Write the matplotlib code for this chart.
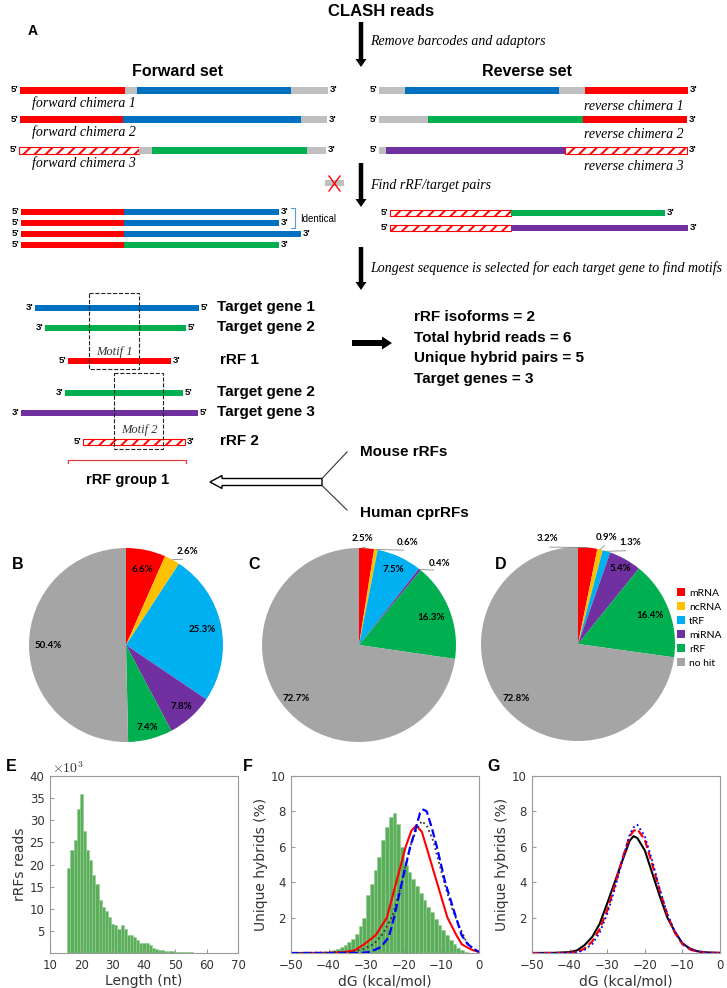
import numpy as np
import matplotlib.pyplot as plt
from matplotlib.patches import Rectangle, Polygon, FancyArrow

plt.rcParams['mathtext.fontset'] = 'cm'
plt.rcParams['hatch.linewidth'] = 1.4

W, H = 727, 988
SANS = 'Liberation Sans'
SERIF = 'Liberation Serif'

# ---- panel A: schematic reads (segment kind, length in px) ----
seg_colors = {'r': '#FF0000', 'b': '#0070C0', 'g': '#00B050', 'p': '#7030A0', 'n': '#BFBFBF'}
fwd_chimeras = [[('r', 105), ('n', 12), ('b', 154), ('n', 37)],
                [('r', 103), ('b', 178), ('n', 26)],
                [('h', 120), ('n', 13), ('g', 155), ('n', 19)]]
rev_chimeras = [[('n', 26), ('b', 154), ('n', 26), ('r', 103)],
                [('n', 49), ('g', 155), ('r', 104)],
                [('n', 7), ('p', 179), ('h', 122)]]
fwd_pairs = [[('r', 103), ('b', 155)], [('r', 103), ('b', 155)],
             [('r', 103), ('b', 177)], [('r', 103), ('g', 155)]]
rev_pairs = [[('h', 121), ('g', 154)], [('h', 121), ('p', 177)]]
motif_rows = [[('b', 164)], [('g', 141)], [('r', 103)], [('g', 118)], [('p', 177)], [('h', 102)]]
motif_names = ['Target gene 1', 'Target gene 2', 'rRF 1', 'Target gene 2', 'Target gene 3', 'rRF 2']
stats = ['rRF isoforms = 2', 'Total hybrid reads = 6', 'Unique hybrid pairs = 5', 'Target genes = 3']

# ---- panels B-D: pies ----
pie_labels = ['mRNA', 'ncRNA', 'tRF', 'miRNA', 'rRF', 'no hit']
pie_colors = ['#FF0000', '#FFC000', '#00B0F0', '#7030A0', '#00B050', '#A5A5A5']
pie_b = [6.6, 2.6, 25.3, 7.8, 7.4, 50.4]
pie_c = [2.5, 0.6, 7.5, 0.4, 16.3, 72.7]
pie_d = [3.2, 0.9, 1.3, 5.4, 16.4, 72.8]

# ---- panel E: rRF length histogram (x10^3 reads) ----
len_nt = np.arange(16, 66)
len_reads = [19.1, 23.2, 25.5, 32.6, 36.0, 27.5, 23.3, 21.1, 17.7, 15.7,
             12.0, 10.4, 9.6, 8.1, 6.6, 6.3, 5.5, 6.3, 5.5, 4.0,
             4.0, 3.6, 3.0, 2.3, 2.3, 2.2, 1.9, 1.2, 0.9, 0.75,
             0.6, 0.45, 0.45, 0.38, 0.3, 0.25, 0.2, 0.17, 0.15, 0.12,
             0.1, 0.08, 0.08, 0.06, 0.1, 0.05, 0.04, 0.03, 0.03, 0.02]

# ---- panel F: dG histogram + curves ----
dg_left = np.arange(-42, -2)
dg_hist = [0.05, 0.07, 0.1, 0.15, 0.25, 0.35, 0.45, 0.6, 0.8, 1.1,
           1.5, 2.0, 3.3, 3.9, 4.7, 5.4, 6.4, 7.1, 7.7, 7.9,
           7.3, 6.0, 5.0, 4.6, 4.2, 3.8, 3.4, 3.0, 2.6, 2.3,
           1.9, 1.6, 1.3, 1.0, 0.75, 0.5, 0.3, 0.15, 0.06, 0.02]
f_red_x = [-50, -40, -36, -33, -30.5, -27.5, -24.5, -22, -19.5, -18, -16.7, -15.2, -14, -11.2, -8.4, -6, -4.6, -3, -1.5, 0]
f_red_y = [0.0, 0.01, 0.05, 0.15, 0.5, 1.0, 2.0, 4.0, 6.0, 6.9, 7.2, 6.85, 6.0, 4.0, 2.0, 1.0, 0.5, 0.3, 0.15, 0.06]
f_blue_x = [-50, -32, -29, -26, -24, -22.6, -20.5, -18.3, -17, -15.7, -14.8, -13.9, -12.6, -11.2, -9, -6.1, -4.6, -3, -1.5, 0]
f_blue_y = [0, 0, 0.05, 0.35, 0.9, 2.0, 4.0, 6.0, 6.9, 7.9, 8.1, 8.0, 7.1, 6.0, 4.0, 2.0, 1.0, 0.5, 0.25, 0.06]
f_blk_x = [-50, -34, -31, -28, -25.5, -23, -21, -19.5, -18, -16.6, -15.2, -13.9, -12.1, -10.4, -8.6, -6.8, -5, -3.3, -1.5, 0]
f_blk_y = [0, 0.05, 0.2, 0.5, 1.1, 2.1, 3.6, 5.0, 6.2, 7.0, 7.45, 7.2, 6.3, 4.9, 3.5, 2.3, 1.4, 0.6, 0.25, 0.06]

# ---- panel G: curves ----
g_x = [-50, -44, -40, -38, -36, -34, -32, -30, -28, -26, -24, -23, -22, -20, -18, -16, -14, -12, -10, -8, -6, -4, -2, 0]
g_blk = [0, 0.01, 0.05, 0.15, 0.45, 0.9, 1.65, 2.8, 4.0, 5.2, 6.35, 6.6, 6.5, 5.8, 4.5, 3.2, 2.0, 1.2, 0.55, 0.25, 0.1, 0.04, 0.02, 0.01]
g_red = [0, 0, 0.01, 0.05, 0.25, 0.65, 1.35, 2.4, 3.8, 5.3, 6.6, 6.9, 7.0, 6.4, 5.0, 3.5, 2.15, 1.15, 0.5, 0.2, 0.07, 0.02, 0.01, 0]
g_blue = [0, 0, 0.01, 0.03, 0.18, 0.5, 1.15, 2.2, 3.6, 5.2, 6.7, 7.1, 7.25, 6.6, 5.2, 3.6, 2.2, 1.2, 0.55, 0.22, 0.08, 0.02, 0.01, 0]


fig = plt.figure(figsize=(W / 100, H / 100), dpi=100)
ax0 = fig.add_axes([0, 0, 1, 1])
ax0.set_xlim(0, W)
ax0.set_ylim(H, 0)
ax0.axis('off')


def txt(x, y, s, size, bold=False, italic=False, ha='left', family=SANS, **kw):
    ax0.text(x, y, s, fontsize=size, fontweight='bold' if bold else 'normal',
             fontstyle='italic' if italic else 'normal', ha=ha, va='center',
             family=family, **kw)


def read(x, y, segs, h, left="5'", right="3'"):
    x0 = x
    for kind, ln in segs:
        if kind == 'h':
            ax0.add_patch(Rectangle((x, y - h / 2), ln, h, facecolor='white',
                                    edgecolor='#FF0000', hatch='///', lw=0.8))
        else:
            ax0.add_patch(Rectangle((x, y - h / 2), ln, h, facecolor=seg_colors[kind],
                                    edgecolor='none'))
        x += ln
    txt(x0 - 2, y - 1, left, 6.8, bold=True, ha='right')
    txt(x + 2, y - 1, right, 6.8, bold=True)


def down_arrow(y0, y1):
    ax0.add_patch(FancyArrow(361, y0, 0, y1 - y0, width=4.5, head_width=11, head_length=8,
                             length_includes_head=True, color='black', lw=0))


# title and flow arrows
txt(381, 11, 'CLASH reads', 12, bold=True, ha='center')
txt(28, 31, 'A', 10, bold=True)
down_arrow(22, 67)
down_arrow(163, 207)
down_arrow(247, 290)
txt(370, 42, 'Remove barcodes and adaptors', 10, italic=True, family=SERIF)
txt(370, 185, 'Find rRF/target pairs', 10, italic=True, family=SERIF)
txt(370, 268, 'Longest sequence is selected for each target gene to find motifs', 10,
    italic=True, family=SERIF)
txt(178, 72, 'Forward set', 11.5, bold=True, ha='center')
txt(527, 72, 'Reverse set', 11.5, bold=True, ha='center')

# chimeras
for i, (segs, y) in enumerate(zip(fwd_chimeras, [91, 120, 151])):
    read([20, 20, 19][i], y, segs, 7)
    txt(32, y + 12, f'forward chimera {i + 1}', 10, italic=True, family=SERIF)
for i, (segs, y) in enumerate(zip(rev_chimeras, [91, 120, 151])):
    read(379, y, segs, 7)
    txt(584, y + 15, f'reverse chimera {i + 1}', 10, italic=True, family=SERIF)

# removed read
ax0.add_patch(Rectangle((325, 180), 19, 6, facecolor='#BFBFBF', edgecolor='none'))
ax0.plot([329, 340], [176, 191], color='#FF0000', lw=1)
ax0.plot([340, 329], [176, 191], color='#FF0000', lw=1)

# rRF/target pairs
for segs, y in zip(fwd_pairs, [212, 223, 234, 245]):
    read(21, y, segs, 5.5)
ax0.plot([291, 295, 295, 291], [208, 208, 228, 228], color='#5B9BD5', lw=0.8)
txt(300, 219, 'Identical', 7)
for segs, y in zip(rev_pairs, [213, 228]):
    read(390, y, segs, 5.5)

# motif panel
row_x = [35, 45, 68, 65, 21, 83]
row_y = [308, 328, 361, 393, 413, 442]
for segs, x, y, name in zip(motif_rows, row_x, row_y, motif_names):
    if name.startswith('rRF'):
        read(x, y, segs, 6)
    else:
        read(x, y, segs, 6, left="3'", right="5'")
    txt(217 if not name.startswith('rRF') else 220, y - 1, name, 11, bold=True)
ax0.add_patch(Rectangle((89, 293), 50, 76, fill=False, ls='--', lw=0.8, edgecolor='#222222'))
ax0.add_patch(Rectangle((114, 373), 49, 76, fill=False, ls='--', lw=0.8, edgecolor='#222222'))
txt(114, 352, 'Motif 1', 9, italic=True, ha='center', family=SERIF, color='#333333')
txt(139, 430, 'Motif 2', 9, italic=True, ha='center', family=SERIF, color='#333333')
ax0.plot([68, 68, 186, 186], [463, 460, 460, 463], color='#E04040', lw=0.9)
txt(128, 480, 'rRF group 1', 10.5, bold=True, ha='center')

# summary
ax0.add_patch(FancyArrow(352, 343, 40, 0, width=6, head_width=13, head_length=10,
                         length_includes_head=True, color='black', lw=0))
for i, s in enumerate(stats):
    txt(414, 317 + i * 20.5, s, 11, bold=True)

# merge arrow
ax0.add_patch(Polygon([[210, 482], [222, 475.5], [222, 478.5], [322, 478.5],
                       [322, 485.5], [222, 485.5], [222, 488.5]],
                      closed=True, facecolor='white', edgecolor='black', lw=1))
ax0.plot([322, 347], [478.5, 452], color='#333333', lw=0.8)
ax0.plot([322, 347], [485.5, 510], color='#333333', lw=0.8)
txt(360, 452, 'Mouse rRFs', 11, bold=True)
txt(360, 513, 'Human cprRFs', 11, bold=True)

# panel letters
for s, x, y in [('B', 12, 564), ('C', 248, 564), ('D', 495, 564),
                ('E', 6, 766), ('F', 243, 766), ('G', 487, 766)]:
    txt(x, y, s, 11.5, bold=True)


# ---- pies ----
def draw_pie(cx, cy, r, vals, lab_r, lab_da):
    ax = fig.add_axes([(cx - r) / W, 1 - (cy + r) / H, 2 * r / W, 2 * r / H])
    wedges, _ = ax.pie(vals, colors=pie_colors, startangle=90, counterclock=False,
                       wedgeprops=dict(linewidth=0))
    ax.set_xlim(-1, 1)
    ax.set_ylim(-1, 1)
    ax.set_aspect('equal')
    ax.axis('off')
    for w, v, rr, da in zip(wedges, vals, lab_r, lab_da):
        mid = np.deg2rad((w.theta1 + w.theta2) / 2)
        ang = mid + np.deg2rad(da)
        tx, ty = rr * np.cos(ang), rr * np.sin(ang)
        ax.text(tx, ty, f'{v}%', fontsize=7, fontweight='bold', family='Lato',
                ha='center', va='center', clip_on=False)
        if rr > 1:
            ex, ey = (rr - 0.09) * np.cos(ang), (rr - 0.09) * np.sin(ang)
            ax.plot([np.cos(mid), ex], [np.sin(mid), ey], color='#888888', lw=0.6,
                    clip_on=False)
    return wedges


draw_pie(126, 645, 97, pie_b, [0.8, 1.15, 0.8, 0.85, 0.88, 0.8], [0, -5, 0, 0, 0, 0])
draw_pie(359, 645, 97, pie_c, [1.1, 1.17, 0.86, 1.18, 0.79, 0.85], [2.5, -15, 0, -6, 0, 0])
wd = draw_pie(578, 644, 97, pie_d, [1.13, 1.14, 1.17, 0.89, 0.8, 0.85], [22, -2, -10, 0, 0, 0])
fig.legend(wd, pie_labels, loc='upper left', bbox_to_anchor=(677 / W, 1 - 588 / H),
           frameon=False, prop={'family': 'Lato', 'size': 7.5}, handlelength=0.8,
           handleheight=0.8, handletextpad=0.35, labelspacing=0.42, borderpad=0,
           borderaxespad=0)


# ---- histogram panels ----
def style(ax):
    for s in ax.spines.values():
        s.set_color('#999999')
        s.set_linewidth(0.8)
    ax.tick_params(direction='in', length=3, color='#999999', labelsize=8.5,
                   labelcolor='#333333', pad=4)


def hax(left):
    return fig.add_axes([left / W, 1 - 953 / H, 188 / W, 177 / H])


axE = hax(50)
axE.bar(len_nt, len_reads, width=1, color='#5cad5c', edgecolor='#8fcf8f', lw=0.4)
axE.set_xlim(10, 70)
axE.set_ylim(0, 40)
axE.set_xticks(range(10, 71, 10))
axE.set_yticks(range(5, 41, 5))
axE.set_xlabel('Length (nt)', fontsize=10, color='#333333', labelpad=2)
axE.set_ylabel('rRFs reads', fontsize=10, color='#333333', labelpad=2)
axE.text(0.01, 1.0, r'$\times10^{3}$', transform=axE.transAxes, fontsize=10,
         color='#333333', va='bottom', ha='left')
style(axE)

axF = hax(291)
axF.bar(dg_left, dg_hist, width=1, align='edge', color='#5cad5c', edgecolor='#8fcf8f', lw=0.4)
axF.plot(f_red_x, f_red_y, color='#FF0000', lw=1.5)
axF.plot(f_blk_x, f_blk_y, color='#333333', lw=1.3, ls=':')
axF.plot(f_blue_x, f_blue_y, color='#0000FF', lw=1.6, ls='--')
axF.set_xlim(-50, 0)
axF.set_ylim(0, 10)
axF.set_yticks(range(2, 11, 2))
axF.set_xlabel('dG (kcal/mol)', fontsize=10, color='#333333', labelpad=2)
axF.set_ylabel('Unique hybrids (%)', fontsize=10, color='#333333', labelpad=2)
style(axF)

axG = hax(532)
axG.plot(g_x, g_blk, color='black', lw=1.5)
axG.plot(g_x, g_red, color='#FF0000', lw=1.6, ls='--')
axG.plot(g_x, g_blue, color='#0000FF', lw=1.3, ls=':')
axG.set_xlim(-50, 0)
axG.set_ylim(0, 10)
axG.set_yticks(range(2, 11, 2))
axG.set_xlabel('dG (kcal/mol)', fontsize=10, color='#333333', labelpad=2)
axG.set_ylabel('Unique hybrids (%)', fontsize=10, color='#333333', labelpad=2)
style(axG)

fig.savefig('out.png', dpi=100)
